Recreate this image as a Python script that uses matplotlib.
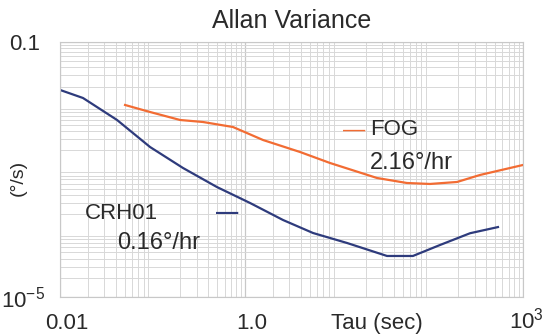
import numpy as np
import matplotlib
matplotlib.use('Agg')
from matplotlib import pyplot as plt
from matplotlib import transforms

# values (tau in sec, deviation in deg/s)
crh_tau = [0.01, 0.0177, 0.0413, 0.0938, 0.213, 0.495, 1.13, 2.56, 5.40,
           12.6, 34.0, 64.8, 127, 268, 537]
crh_dev = [0.0177, 0.01324, 0.00598, 0.002254, 0.001056, 0.000531, 0.000298,
           0.0001614, 0.0001009, 7.03e-5, 4.40e-5, 4.40e-5, 6.54e-5, 1.0e-4,
           1.25e-4]

fog_tau = [0.0504, 0.0938, 0.198, 0.350, 0.738, 1.56, 3.91, 8.24, 26.5,
           55.8, 99, 194, 343, 1000]
fog_dev = [0.01028, 0.00798, 0.00598, 0.00556, 0.00464, 0.00290, 0.001882,
           0.001265, 0.000736, 0.000614, 0.000593, 0.000637, 0.000820, 0.001177]

x_ticks = [0.01, 1.0, 1000]
x_labels = ['0.01', '1.0', r'$10^3$']
y_ticks = [1e-5, 0.1]
y_labels = [r'$10^{-5}$', '0.1']

blue = '#2e3b7c'
orange = '#f26c33'
txt = '#2a2a2a'

plt.rcParams['font.family'] = ['Liberation Sans', 'DejaVu Sans']
plt.rcParams['mathtext.fontset'] = 'custom'
plt.rcParams['mathtext.rm'] = 'Liberation Sans'

fig = plt.figure(figsize=(5.49, 3.36), dpi=100)
ax = fig.add_axes([0.1093, 0.1161, 0.8433, 0.7589])

ax.plot(crh_tau, crh_dev, color=blue, lw=1.6)
ax.plot(fog_tau, fog_dev, color=orange, lw=1.6)

ax.set_xscale('log')
ax.set_yscale('log')
ax.set_xlim(0.01, 1000)
ax.set_ylim(1e-5, 0.1)

ax.grid(True, which='major', color='#c8c8c8', lw=0.9)
ax.grid(True, which='minor', color='#d8d8d8', lw=0.7)
for s in ax.spines.values():
    s.set_color('#c8c8c8')

ax.set_xticks(x_ticks)
ax.set_xticklabels(x_labels)
ax.set_yticks(y_ticks)
ax.set_yticklabels(y_labels)
ax.tick_params(which='both', length=0)
ax.tick_params(axis='x', pad=23, labelsize=16, colors=txt)
ax.tick_params(axis='y', pad=11, labelsize=16, colors=txt)

# nudge tick labels like the original, x labels sit on a common baseline
xl = ax.get_xticklabels()
for lab, dx in zip(xl, [7, 7, 3]):
    lab.set_va('baseline')
    lab.set_transform(lab.get_transform() +
                      transforms.ScaledTranslation(dx / 100, 0, fig.dpi_scale_trans))
yl = ax.get_yticklabels()
yl[1].set_transform(yl[1].get_transform() +
                    transforms.ScaledTranslation(-5 / 100, 0, fig.dpi_scale_trans))

ax.set_title('Allan Variance', fontsize=18, color=txt, pad=10)
ax.set_ylabel('(°/s)', fontsize=14, color=txt)
ax.yaxis.set_label_coords(-0.071, 0.467)
ax.text(0.685, -0.125, 'Tau (sec)', transform=ax.transAxes, fontsize=16,
        color=txt, ha='center', va='baseline')

# inline labels
ax.text(0.635, 0.655, '\u2014', transform=ax.transAxes, fontsize=16,
        color=orange, ha='center', va='center')
ax.text(0.670, 0.655, 'FOG', transform=ax.transAxes, fontsize=16,
        color=txt, ha='left', va='center')
ax.text(0.670, 0.525, '2.16°/hr', transform=ax.transAxes, fontsize=17,
        color=txt, ha='left', va='center')
ax.text(0.054, 0.329, 'CRH01', transform=ax.transAxes, fontsize=16,
        color=txt, ha='left', va='center')
ax.text(0.361, 0.329, '\u2014', transform=ax.transAxes, fontsize=16,
        color=blue, ha='center', va='center', fontweight='bold')
ax.text(0.123, 0.212, '0.16°/hr', transform=ax.transAxes, fontsize=17,
        color=txt, ha='left', va='center')

plt.savefig('out.png', dpi=100)
